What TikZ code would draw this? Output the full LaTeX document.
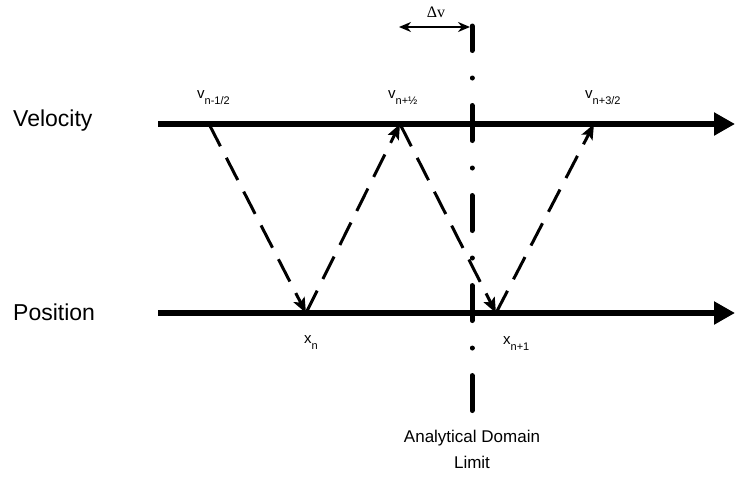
\documentclass[tikz,border=0pt]{standalone}
\usepackage{fontspec}
\setmainfont{Liberation Sans}
\newfontfamily\serifff{Liberation Serif}
\usetikzlibrary{arrows.meta}
\newcommand{\lowsub}[1]{\raisebox{-6.5pt}{\fontsize{11}{12}\selectfont #1}}
\begin{document}
\begin{tikzpicture}[x=1pt,y=-1pt,
  axisline/.style={line width=6pt,-{Triangle[length=21pt,width=22pt]}},
  leap/.style={line width=3pt,dash pattern=on 25pt off 13pt,-{Stealth[length=15pt,width=12pt,inset=3pt]}},
  limitline/.style={line width=5pt,line cap=round,dash pattern=on 35pt off 27.5pt on 0.01pt off 27.5pt,dash phase=10.5pt},
  lbl/.style={font=\fontsize{23}{26}\selectfont,anchor=west,inner sep=0pt},
  sub/.style={font=\fontsize{15}{17}\selectfont,anchor=base west,inner sep=0pt},
  caption/.style={font=\fontsize{17}{26}\selectfont,align=center,inner sep=0pt}]
\useasboundingbox (0,0) rectangle (735,479);
% axes
\coordinate (vs) at (158,124);
\coordinate (ve) at (735,124);
\coordinate (ps) at (158,313);
\coordinate (pe) at (735,313);
\draw[axisline] (vs) -- (ve);
\draw[axisline] (ps) -- (pe);
\node[lbl] (vel) at (13,121) {Velocity};
\node[lbl] (pos) at (13,312) {Position};
% points
\coordinate (v0) at (209,124);
\coordinate (v1) at (400,124);
\coordinate (v2) at (594,124);
\coordinate (x0) at (306,313);
\coordinate (x1) at (496,313);
% dashed leapfrog arrows
\draw[leap] (v0) -- (x0);
\draw[leap] (x0) -- (v1);
\draw[leap] (v1) -- (x1);
\draw[leap] (x1) -- (v2);
% labels
\node[sub] (lv0) at (197,98) {v\lowsub{n-1/2}};
\node[sub] (lv1) at (388,98) {v\lowsub{n+\textonehalf}};
\node[sub] (lv2) at (585,98) {v\lowsub{n+3/2}};
\node[sub] (lx0) at (304,343) {x\lowsub{n}};
\node[sub] (lx1) at (503,344) {x\lowsub{n+1}};
% analytical domain limit
\coordinate (dtop) at (472,26);
\coordinate (dbot) at (472,412);
\draw[limitline] (dtop) -- (dbot);
\node[caption] (cap) at (472,449) {Analytical Domain\\Limit};
% delta v
\coordinate (dl) at (399,27);
\coordinate (dr) at (470,27);
\draw[line width=2pt,{Stealth[length=12pt,width=10pt]}-{Stealth[length=12pt,width=10pt]}] (dl) -- (dr);
\node[font=\serifff\fontsize{16}{18}\selectfont,inner sep=0pt] (dv) at (436,12) {Δv};
\end{tikzpicture}
\end{document}
